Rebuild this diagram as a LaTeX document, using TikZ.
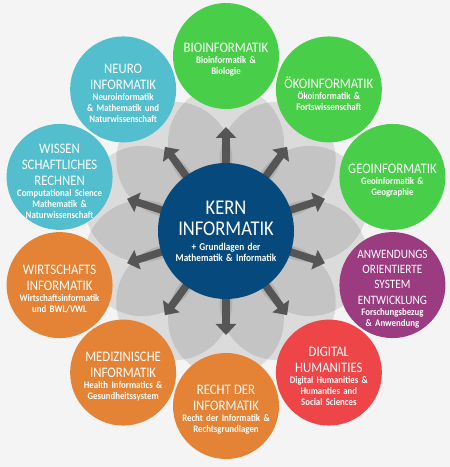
\documentclass[tikz,border=0pt]{standalone}
\usepackage{fontspec}
\setmainfont{Carlito}[FakeStretch=0.88]
\usetikzlibrary{arrows.meta,calc}
\definecolor{bgc}{HTML}{F4F4F4}
\definecolor{grn}{HTML}{48CE48}
\definecolor{tea}{HTML}{52BECE}
\definecolor{pur}{HTML}{9B3B80}
\definecolor{rdd}{HTML}{EE4548}
\definecolor{org}{HTML}{E48335}
\definecolor{blu}{HTML}{05497D}
\definecolor{arc}{HTML}{555555}
\newcommand\mytitle[1]{{\fontsize{14.5}{16}\selectfont #1\par}}
\newcommand\mysmalltitle[1]{{\fontsize{12.8}{15.2}\selectfont #1\par}}
\newcommand\mysub[1]{{\fontsize{10}{11}\selectfont\bfseries #1\par}}
\begin{document}
\begin{tikzpicture}[x=1pt,y=1pt,
  outer/.style={circle,fill=#1,minimum size=106pt,inner sep=0pt},
  label/.style={text=white,align=center,text width=104pt,inner sep=0pt,yshift=-4pt},
  arr/.style={arc,line width=7.5pt,-{Triangle[width=20pt,length=11pt]}},
  petal/.style={fill=black,fill opacity=0.1}]
\fill[bgc] (0,0) rectangle (450,467);
\useasboundingbox (0,0) rectangle (450,467);
\coordinate (K) at (226,236);
% petals
\foreach \a in {90,54,18,-18,-54,-90,-126,-162,162,126}
  \fill[petal] ($(K)+(\a:88)$) circle (58);
% outer circles
\node[outer=grn] (bio) at ($(K)+(90:175)$) {};
\node[outer=grn] (oko) at ($(K)+(54:175)$) {};
\node[outer=grn] (geo) at ($(K)+(18:175)$) {};
\node[outer=pur] (anw) at ($(K)+(-18:175)$) {};
\node[outer=rdd] (dh) at ($(K)+(-54:175)$) {};
\node[outer=org] (recht) at ($(K)+(-90:175)$) {};
\node[outer=org] (med) at ($(K)+(-126:175)$) {};
\node[outer=org] (wirt) at ($(K)+(-162:175)$) {};
\node[outer=tea] (wiss) at ($(K)+(162:175)$) {};
\node[outer=tea] (neuro) at ($(K)+(126:175)$) {};
% arrows
\foreach \n in {bio,oko,geo,anw,dh,recht,med,wirt,wiss,neuro}
  \draw[arr] ($(K)!55pt!(\n)$) -- ($(K)!104pt!(\n)$);
% center
\node[circle,fill=blu,minimum size=136pt,inner sep=0pt] (kern) at (K) {};
\node[text=white,align=center,text width=130pt,inner sep=0pt] (tkern) at (kern.center)
  {{\fontsize{21}{21}\selectfont KERN\\INFORMATIK\par}\vspace{4pt}{\fontsize{10.5}{11}\selectfont\bfseries + Grundlagen der\\Mathematik \& Informatik\par}};
% texts
\node[label] (tbio) at (bio.center) {\mytitle{BIOINFORMATIK}\mysub{Bioinformatik \&\\Biologie}};
\node[label] (toko) at (oko.center) {\mytitle{ÖKOINFORMATIK}\mysub{Ökoinformatik \&\\Fortswissenschaft}};
\node[label] (tgeo) at (geo.center) {\mytitle{GEOINFORMATIK}\mysub{Geoinformatik \&\\Geographie}};
\node[label] (tanw) at (anw.center) {\mysmalltitle{ANWENDUNGS\\ORIENTIERTE\\SYSTEM\\ENTWICKLUNG}\mysub{Forschungsbezug\\\& Anwendung}};
\node[label] (tdh) at (dh.center) {\mytitle{DIGITAL\\HUMANITIES}\mysub{Digital Humanities \&\\Humanties and\\Social Sciences}};
\node[label] (trecht) at (recht.center) {\mytitle{RECHT DER\\INFORMATIK}\mysub{Recht der Informatik \&\\Rechtsgrundlagen}};
\node[label] (tmed) at (med.center) {\mytitle{MEDIZINISCHE\\INFORMATIK}\mysub{Health Informatics \&\\Gesundheitssystem}};
\node[label] (twirt) at (wirt.center) {\mytitle{WIRTSCHAFTS\\INFORMATIK}\mysub{Wirtschaftsinformatik\\und BWL/VWL}};
\node[label] (twiss) at (wiss.center) {\mytitle{WISSEN\\SCHAFTLICHES\\RECHNEN}\mysub{Computational Science\\Mathematik \&\\Naturwissenschaft}};
\node[label] (tneuro) at (neuro.center) {\mytitle{NEURO\\INFORMATIK}\mysub{Neuroinformatik\\\& Mathematik und\\Naturwissenschaft}};
\end{tikzpicture}
\end{document}
